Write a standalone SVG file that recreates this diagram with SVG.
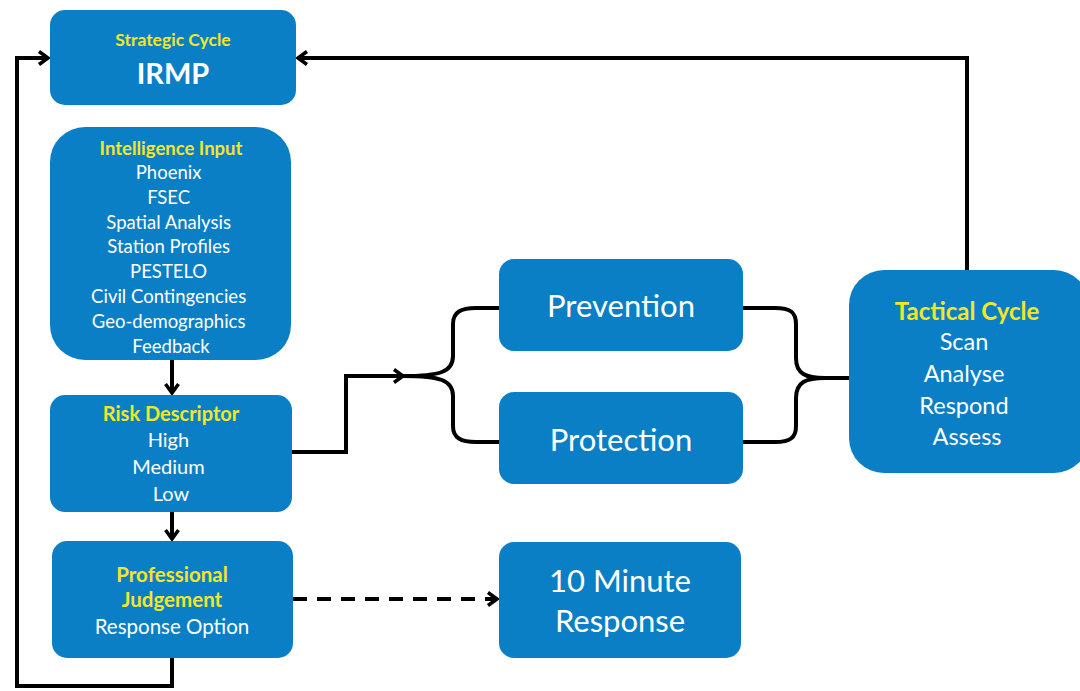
<svg xmlns="http://www.w3.org/2000/svg" width="1080" height="691" viewBox="0 0 1080 691">
<defs>
<style>
.box{fill:#0b7fc6;}
.t{font-family:Lato,"Open Sans",sans-serif;fill:#ffffff;text-anchor:middle;}
.y{font-family:Lato,"Open Sans",sans-serif;fill:#f3e62a;font-weight:bold;text-anchor:middle;}
.ln{fill:none;stroke:#000;stroke-width:4;stroke-linejoin:miter;}
</style>
<marker id="arr" markerWidth="14" markerHeight="16" refX="11" refY="8" orient="auto" markerUnits="userSpaceOnUse">
<path d="M2 1.5 L11 8 L2 14.5" fill="none" stroke="#000" stroke-width="3.5"/>
</marker>
</defs>
<rect width="1080" height="691" fill="#ffffff"/>
<g id="connectors">
<path class="ln" d="M172 658 L172 686 L17 686 L17 58 L48 58" marker-end="url(#arr)"/>
<path class="ln" d="M967 270 L967 58 L298 58" marker-end="url(#arr)"/>
<path class="ln" d="M172 360 L172 393" marker-end="url(#arr)"/>
<path class="ln" d="M172 512 L172 539" marker-end="url(#arr)"/>
<path class="ln" d="M292 452 L346 452 L346 376 L403 376" marker-end="url(#arr)"/>
<path class="ln" d="M403 376 C440 376 453 372 453 356 L453 324 C453 312 461 308 476 308 L499 308"/>
<path class="ln" d="M403 376 C440 376 453 380 453 396 L453 426 C453 438 461 442 476 442 L499 442"/>
<path class="ln" d="M743 308 L775 308 C790 308 796 312 796 324 L796 358 C796 374 806 378 825 378 L849 378"/>
<path class="ln" d="M743 442 L775 442 C790 442 796 438 796 426 L796 398 C796 382 806 378 825 378"/>
<path class="ln" d="M293 599 L497 599" stroke-dasharray="14 10" marker-end="url(#arr)"/>
</g>
<g id="irmp">
<rect class="box" x="50" y="10" width="246" height="95" rx="15"/>
<text class="y" x="173" y="46" font-size="17.5">Strategic Cycle</text>
<text class="t" x="173" y="84" font-size="29" font-weight="bold">IRMP</text>
</g>
<g id="intelligence">
<rect class="box" x="50" y="127" width="241" height="233" rx="35"/>
<text class="y" x="171" y="155" font-size="18.5">Intelligence Input</text>
<text class="t" font-size="18.5">
<tspan x="171" y="179">Phoenix</tspan>
<tspan x="171" y="204">FSEC</tspan>
<tspan x="171" y="229">Spatial Analysis</tspan>
<tspan x="171" y="253">Station Profiles</tspan>
<tspan x="171" y="278">PESTELO</tspan>
<tspan x="171" y="303">Civil Contingencies</tspan>
<tspan x="171" y="328">Geo-demographics</tspan>
<tspan x="171" y="353">Feedback</tspan>
</text>
</g>
<g id="risk">
<rect class="box" x="50" y="395" width="242" height="117" rx="15"/>
<text class="y" x="171" y="421" font-size="20">Risk Descriptor</text>
<text class="t" font-size="20">
<tspan x="171" y="447">High</tspan>
<tspan x="171" y="474">Medium</tspan>
<tspan x="171" y="501">Low</tspan>
</text>
</g>
<g id="judgement">
<rect class="box" x="52" y="541" width="241" height="117" rx="15"/>
<text class="y" x="172" y="582" font-size="20.5">Professional</text>
<text class="y" x="172" y="607" font-size="20.5">Judgement</text>
<text class="t" x="172" y="634" font-size="20.5">Response Option</text>
</g>
<g id="prevention">
<rect class="box" x="499" y="259" width="244" height="92" rx="15"/>
<text class="t" x="621" y="317" font-size="31">Prevention</text>
</g>
<g id="protection">
<rect class="box" x="499" y="392" width="244" height="92" rx="15"/>
<text class="t" x="621" y="451" font-size="31">Protection</text>
</g>
<g id="tenminute">
<rect class="box" x="499" y="542" width="242" height="116" rx="15"/>
<text class="t" x="620" y="592" font-size="31">10 Minute</text>
<text class="t" x="620" y="632" font-size="31">Response</text>
</g>
<g id="tactical">
<rect class="box" x="849" y="270" width="240" height="203" rx="35"/>
<text class="y" x="967" y="320" font-size="24">Tactical Cycle</text>
<text class="t" font-size="23.5">
<tspan x="967" y="350">Scan</tspan>
<tspan x="967" y="382">Analyse</tspan>
<tspan x="967" y="414">Respond</tspan>
<tspan x="967" y="445">Assess</tspan>
</text>
</g>
</svg>
